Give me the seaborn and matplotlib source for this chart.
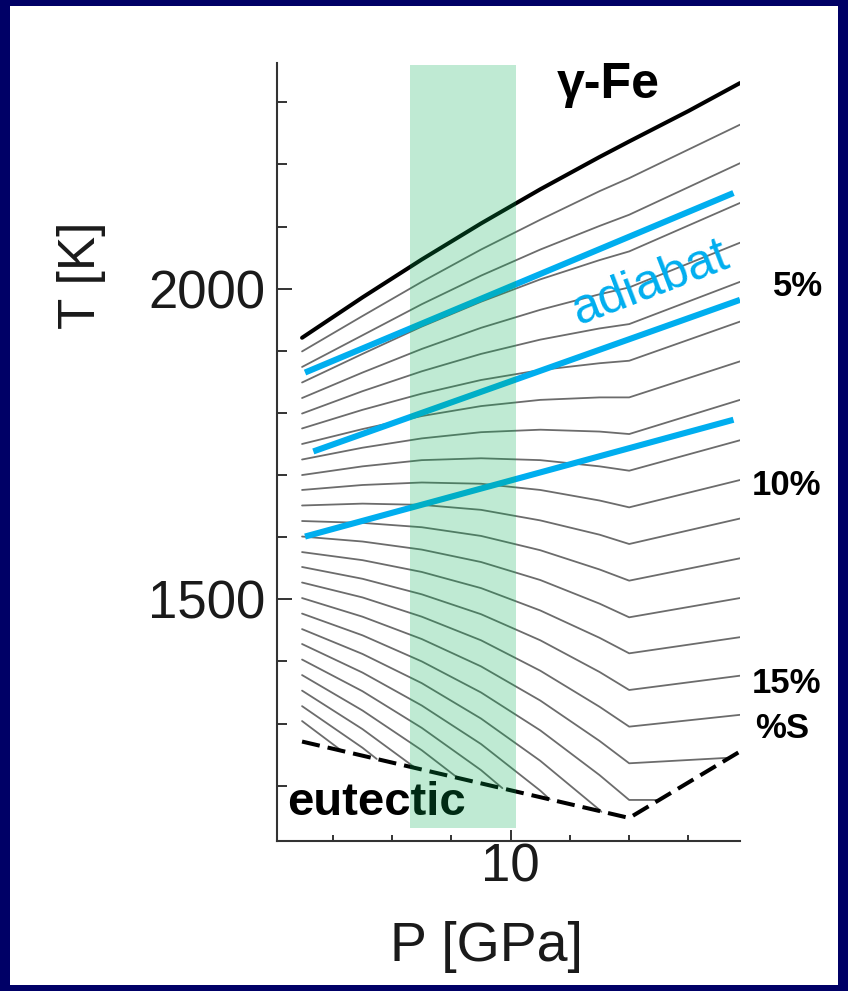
import numpy as np
import pandas as pd
import matplotlib
matplotlib.use("Agg")
import matplotlib.pyplot as plt
import seaborn as sns
from matplotlib.patches import Rectangle
from matplotlib.ticker import FixedLocator

# ---------------- data ----------------
nan = np.nan
# pressure positions (GPa) at which each liquidus isopleth is read
P_cols = [6.48, 7.5, 8.5, 9.5, 10.5, 11.5, 12.0, 13.87]

# liquidus temperature (K) of each %S isopleth (25 thin grey lines, top to bottom)
T_at_6p48 = [1899, 1874, 1849, 1824, 1799, 1775, 1750, 1725, 1700, 1676, 1651, 1626, 1601,
             1576, 1552, 1527, 1502, 1477, 1452, 1428, 1403, 1378, 1353, 1328, 1304]
T_at_7p5 = [1956, 1925, 1895, 1865, 1835, 1805, 1774, 1744, 1714, 1684, 1654, 1623, 1593,
            1563, 1533, 1503, 1472, 1442, 1412, 1382, 1352, 1321, 1291, 1261, nan]
T_at_8p5 = [2011, 1975, 1939, 1903, 1867, 1831, 1795, 1759, 1724, 1688, 1652, 1616, 1580,
            1544, 1508, 1472, 1436, 1400, 1365, 1329, 1293, 1257, nan, nan, nan]
T_at_9p5 = [2063, 2021, 1979, 1937, 1895, 1853, 1811, 1769, 1727, 1686, 1644, 1602, 1560,
            1518, 1476, 1434, 1392, 1350, 1308, 1267, 1225, nan, nan, nan, nan]
T_at_10p5 = [2111, 2063, 2015, 1966, 1918, 1869, 1821, 1773, 1724, 1676, 1627, 1579, 1531,
             1482, 1434, 1385, 1337, 1289, 1240, 1192, nan, nan, nan, nan, nan]
T_at_11p5 = [2157, 2101, 2046, 1991, 1936, 1880, 1825, 1770, 1714, 1659, 1604, 1548, 1493,
             1438, 1383, 1327, 1272, 1217, 1161, nan, nan, nan, nan, nan, nan]
T_at_12 = [2178, 2119, 2060, 2002, 1943, 1884, 1825, 1766, 1707, 1648, 1589, 1530, 1471,
           1413, 1354, 1295, 1236, 1177, nan, nan, nan, nan, nan, nan, nan]
T_at_13p87 = [2264, 2202, 2138, 2074, 2011, 1947, 1883, 1821, 1756, 1692, 1630, 1566, 1502,
              1439, 1377, 1314, nan, nan, nan, nan, nan, nan, nan, nan, nan]
# where the lower isopleths stop on the eutectic
end_P = [nan] * 16 + [13.70, 12.52, 11.53, 10.66, 9.86, 9.10, 8.40, 7.74, 7.15]
end_T = [nan] * 16 + [1245, 1177, 1158, 1178, 1196, 1213, 1228, 1243, 1256]

# gamma-Fe liquidus
fe_P = [6.48, 7.5, 8.5, 9.5, 10.5, 11.5, 12.0, 13.0, 13.87]
fe_T = [1921, 1986, 2047, 2105, 2160, 2212, 2237, 2286, 2331]

# eutectic
eut_P = [6.48, 12.0, 13.87]
eut_T = [1271, 1148, 1255]

# adiabats
adiabat_id = ["a1", "a1", "a2", "a2", "a3", "a3"]
adiabat_P = [6.53, 13.76, 6.67, 13.87, 6.53, 13.76]
adiabat_T = [1865, 2154, 1738, 1982, 1601, 1789]

# highlighted pressure band
band_P = [8.30, 10.09]
band_T = [1132, 2360]

# ---------------- build tables ----------------
cols = [T_at_6p48, T_at_7p5, T_at_8p5, T_at_9p5, T_at_10p5, T_at_11p5, T_at_12, T_at_13p87]
rows = []
for i in range(len(T_at_6p48)):
    for P, col in zip(P_cols, cols):
        if not np.isnan(col[i]):
            rows.append((i, P, col[i]))
    if not np.isnan(end_P[i]):
        rows.append((i, end_P[i], end_T[i]))
iso = pd.DataFrame(rows, columns=["line", "P", "T"])
adia = pd.DataFrame({"line": adiabat_id, "P": adiabat_P, "T": adiabat_T})

# ---------------- figure ----------------
sns.set_theme(style="ticks")
plt.rcParams["font.family"] = ["Liberation Sans", "DejaVu Sans"]

W, H = 848, 991
fig = plt.figure(figsize=(W / 100, H / 100), dpi=100, facecolor="#000066")
fig.patches.append(Rectangle((10 / W, 6 / H), (838 - 10) / W, (985 - 6) / H,
                             transform=fig.transFigure, facecolor="white",
                             edgecolor="none", zorder=-5))

ax = fig.add_axes([276.7 / W, 1 - 840.7 / H, (740 - 276.7) / W, (840.7 - 63.3) / H])
ax.set_facecolor("white")

sns.lineplot(data=iso, x="P", y="T", units="line", estimator=None, sort=False,
             color="#6c6c6c", linewidth=1.3, ax=ax, legend=False, zorder=2)
for ln in ax.lines:
    ln.set_solid_joinstyle("round")
sns.lineplot(x=fe_P, y=fe_T, sort=False, color="black", linewidth=2.9, ax=ax, zorder=3)
ax.lines[-1].set_solid_joinstyle("round")
sns.lineplot(x=eut_P, y=eut_T, sort=False, color="black", linewidth=2.9, ax=ax, zorder=3)
ax.lines[-1].set_linestyle((0, (4.5, 2)))
sns.lineplot(data=adia, x="P", y="T", units="line", estimator=None, sort=False,
             color="#00AEEF", linewidth=4.4, ax=ax, legend=False, zorder=4)
for ln in ax.lines[-3:]:
    ln.set_solid_capstyle("butt")

ax.add_patch(Rectangle((band_P[0], band_T[0]), band_P[1] - band_P[0], band_T[1] - band_T[0],
                       facecolor="#00AF50", alpha=0.25, edgecolor="none", zorder=6))

ax.set_xlim(6.052, 13.87)
ax.set_ylim(1111.4, 2362.8)
ax.xaxis.set_major_locator(FixedLocator([10]))
ax.xaxis.set_minor_locator(FixedLocator([7, 8, 9, 11, 12, 13]))
ax.yaxis.set_major_locator(FixedLocator([1500, 2000]))
ax.yaxis.set_minor_locator(FixedLocator([1200, 1300, 1400, 1600, 1700, 1800, 1900,
                                         2100, 2200, 2300]))
ax.set_xlabel("")
ax.set_ylabel("")
ax.tick_params(axis="x", which="major", direction="in", length=8, width=1.4,
               color="#333333", pad=1, labelsize=38, labelcolor="#1a1a1a")
ax.tick_params(axis="x", which="minor", direction="in", length=4.5, width=1.4,
               color="#333333")
ax.tick_params(axis="y", which="major", direction="in", length=11, width=1.4,
               color="#333333", pad=8, labelsize=38, labelcolor="#1a1a1a")
ax.tick_params(axis="y", which="minor", direction="in", length=7, width=1.4,
               color="#333333")
for s in ["top", "right"]:
    ax.spines[s].set_visible(False)
for s in ["left", "bottom"]:
    ax.spines[s].set_color("#333333")
    ax.spines[s].set_linewidth(1.5)

# annotations
ax.text(10.78, 2307, "γ-Fe", fontsize=36, fontweight="bold", color="black",
        ha="left", va="baseline", zorder=7)
ax.text(6.226, 1152.8, "eutectic", fontsize=34, fontweight="bold", color="black",
        ha="left", va="baseline", zorder=5)
ax.text(11.15, 1942, "adiabat", fontsize=36, color="#00AEEF", rotation=21,
        rotation_mode="anchor", ha="left", va="baseline", zorder=7)
for txt, px, ty in [("5%", 14.426, 1989), ("10%", 14.071, 1668),
                    ("15%", 14.071, 1349), ("%S", 14.122, 1277)]:
    ax.text(px, ty, txt, fontsize=25, fontweight="bold", color="black",
            ha="left", va="baseline", clip_on=False)

fig.text(82 / W, 1 - 275 / H, "T [K]", rotation=90, fontsize=37, color="#1a1a1a",
         ha="center", va="center")
fig.text(487 / W, 1 - 947 / H, "P [GPa]", fontsize=40, color="#1a1a1a",
         ha="center", va="center")

fig.savefig("out.png", dpi=100, facecolor=fig.get_facecolor())
